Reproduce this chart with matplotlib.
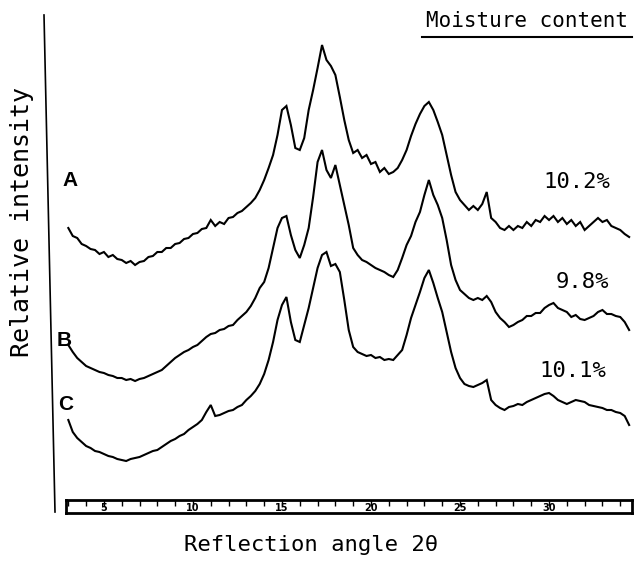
import numpy as np
import matplotlib
matplotlib.use("Agg")
import matplotlib.pyplot as plt
from matplotlib.lines import Line2D

# X-ray diffractograms, three samples
# 2theta sampled every 0.25 deg from 3.0 to 34.5
two_theta = 3.0 + 0.25 * np.arange(127)

# relative intensity (arbitrary units, traces stacked as in the original)
curve_A = [333, 325, 323, 317, 315, 312, 311, 307, 309, 304, 306, 302, 301, 298, 300, 296,
           299, 300, 304, 305, 309, 309, 313, 313, 317, 318, 322, 323, 327, 328, 332, 333,
           341, 335, 339, 337, 343, 344, 348, 350, 354, 358, 363, 371, 381, 393, 406, 426,
           451, 455, 436, 413, 411, 423, 451, 471, 493, 516, 501, 495, 486, 464, 441, 421,
           408, 411, 403, 406, 397, 399, 389, 393, 387, 389, 393, 401, 411, 425, 437, 447,
           455, 459, 451, 439, 426, 406, 386, 369, 361, 356, 351, 355, 351, 357, 369, 343,
           339, 333, 331, 335, 331, 335, 333, 339, 335, 341, 339, 345, 341, 345, 339, 343,
           337, 341, 335, 339, 331, 335, 339, 343, 339, 341, 335, 333, 331, 327, 324]
curve_B = [216, 209, 203, 199, 195, 193, 191, 189, 188, 186, 185, 183, 183, 181, 182, 180,
           182, 183, 185, 187, 189, 191, 195, 199, 203, 206, 209, 211, 214, 216, 220, 224,
           227, 228, 231, 232, 235, 236, 241, 245, 249, 255, 263, 273, 279, 293, 313, 333,
           343, 345, 326, 311, 303, 316, 333, 364, 399, 411, 391, 383, 396, 376, 356, 336,
           313, 306, 301, 299, 296, 293, 291, 289, 286, 284, 291, 303, 316, 325, 339, 349,
           366, 381, 366, 356, 343, 321, 296, 281, 271, 267, 263, 261, 263, 261, 265, 259,
           249, 243, 239, 234, 236, 239, 241, 245, 245, 248, 248, 253, 256, 258, 253, 251,
           249, 244, 246, 242, 241, 243, 245, 249, 251, 247, 247, 245, 244, 239, 231]
curve_C = [141, 129, 123, 119, 115, 113, 110, 109, 107, 105, 104, 102, 101, 100, 102, 103,
           104, 106, 108, 110, 111, 114, 117, 120, 122, 125, 127, 131, 134, 137, 141, 149,
           156, 145, 146, 148, 150, 151, 154, 156, 161, 165, 170, 177, 187, 201, 219, 241,
           256, 264, 239, 221, 219, 236, 253, 273, 293, 306, 309, 295, 297, 289, 261, 231,
           214, 209, 207, 205, 206, 203, 204, 201, 202, 201, 206, 211, 226, 243, 256, 269,
           283, 291, 278, 263, 249, 229, 209, 193, 183, 177, 175, 174, 176, 178, 181, 161,
           156, 153, 151, 154, 155, 157, 156, 159, 161, 163, 165, 167, 168, 165, 161, 159,
           157, 159, 161, 160, 159, 156, 155, 154, 153, 151, 151, 149, 148, 145, 136]

sample_names = ["A", "B", "C"]
moisture = ["10.2%", "9.8%", "10.1%"]
ruler_labels = [5, 10, 15, 20, 25, 30]

W, H = 638, 561
fig = plt.figure(figsize=(W / 100, H / 100), dpi=100)
mono = "DejaVu Sans Mono"

# main trace area (same x range as the ruler)
xlim = (2.87, 34.66)
ax = fig.add_axes([66 / W, 0, 566 / W, 1])
ax.set_xlim(*xlim)
ax.set_ylim(0, H)
ax.axis("off")
for curve in (curve_A, curve_B, curve_C):
    ax.plot(two_theta, curve, color="black", lw=1.5, solid_joinstyle="miter")

# ruler along the bottom
axr = fig.add_axes([66 / W, (H - 513) / H, 566 / W, 13 / H])
axr.set_xlim(*xlim)
axr.set_ylim(0, 1)
axr.set_yticks([])
axr.set_xticks(np.arange(3, 35))
axr.tick_params(axis="x", top=True, bottom=False, direction="in", length=4,
                width=1, labelbottom=False, labeltop=False)
for s in axr.spines.values():
    s.set_linewidth(2)
for v in ruler_labels:
    axr.text(v, 0.4, str(v), ha="center", va="center", fontsize=7,
             fontweight="bold", family="DejaVu Sans")

# slightly slanted vertical axis line as in the scan
fig.add_artist(Line2D([44 / W, 55 / W], [1 - 15 / H, 1 - 512 / H], color="black", lw=1.2))

# labels
fig.text(22 / W, 1 - 222 / H, "Relative intensity", rotation=90, ha="center",
         va="center", fontsize=18, family=mono)
fig.text(311 / W, 1 - 545 / H, "Reflection angle 2θ", ha="center", va="center",
         fontsize=16, family=mono)
fig.text(527 / W, 1 - 21 / H, "Moisture content", ha="center", va="center",
         fontsize=15, family=mono)
fig.add_artist(Line2D([422 / W, 632 / W], [1 - 37 / H, 1 - 37 / H], color="black", lw=1.5))

for name, (x, y) in zip(sample_names, [(70, 181), (64, 340), (66, 404)]):
    fig.text(x / W, 1 - y / H, name, ha="center", va="center", fontsize=15,
             fontweight="bold", family="Liberation Sans")
for txt, (x, y) in zip(moisture, [(577, 182), (582, 282), (573, 371)]):
    fig.text(x / W, 1 - y / H, txt, ha="center", va="center", fontsize=16, family=mono)

fig.savefig("out.png", dpi=100, facecolor="white")
